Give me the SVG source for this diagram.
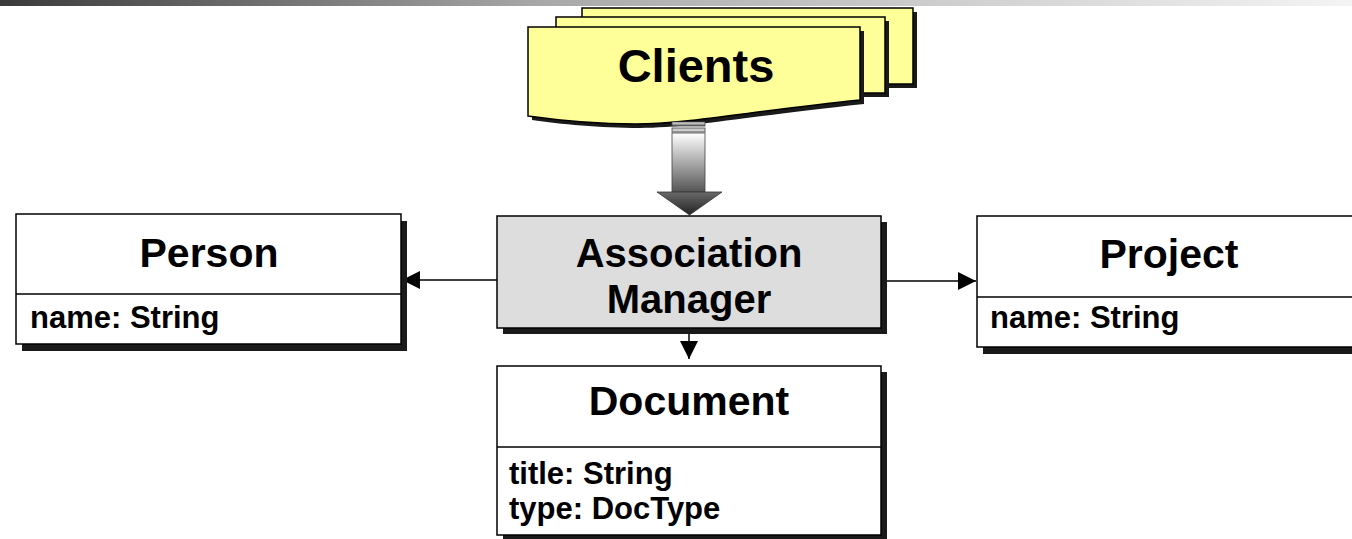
<svg xmlns="http://www.w3.org/2000/svg" width="1352" height="539" viewBox="0 0 1352 539">
<defs>
<linearGradient id="topbar" x1="0" y1="0" x2="1" y2="0">
<stop offset="0" stop-color="#3a3a3a"/>
<stop offset="0.4" stop-color="#a8a8a8"/>
<stop offset="1" stop-color="#f4f4f4"/>
</linearGradient>
<linearGradient id="shaft" x1="0" y1="0" x2="0" y2="1">
<stop offset="0" stop-color="#ffffff"/>
<stop offset="1" stop-color="#555555"/>
</linearGradient>
<linearGradient id="head" x1="0" y1="0" x2="0" y2="1">
<stop offset="0" stop-color="#6a6a6a"/>
<stop offset="1" stop-color="#222222"/>
</linearGradient>
<marker id="arr" viewBox="0 0 10 10" refX="10" refY="5" markerWidth="18" markerHeight="18" markerUnits="userSpaceOnUse" orient="auto">
<path d="M0,0 L10,5 L0,10 Z" fill="#000"/>
</marker>
</defs>
<style>
.shadow{fill:#1a1a1a}
.box{fill:#ffffff;stroke:#000;stroke-width:1.5}
.mgr{fill:#dddddd;stroke:#000;stroke-width:1.5}
.sheet{fill:#ffff99;stroke:#000;stroke-width:1.5}
.div{stroke:#000;stroke-width:1.5}
.title{font-family:"Liberation Sans",Arial,sans-serif;font-weight:bold;font-size:41px;text-anchor:middle;fill:#000}
.attr{font-family:"Liberation Sans",Arial,sans-serif;font-weight:bold;font-size:31px;fill:#000}
.conn{stroke:#000;stroke-width:1.5;fill:none}
</style>
<rect x="0" y="0" width="1352" height="6" fill="url(#topbar)"/>

<g id="clients">
<rect class="shadow" x="586" y="12" width="331" height="76"/>
<rect class="sheet" x="582" y="8" width="331" height="76"/>
<rect class="shadow" x="560" y="21" width="329" height="76"/>
<rect class="sheet" x="556" y="17" width="329" height="76"/>
<path class="shadow" d="M532,31 L864,31 L864,104 C750,116 690,128 640,128 C600,128 560,124 532,120 Z"/>
<path class="sheet" d="M528,27 L860,27 L860,100 C746,112 686,124 636,124 C596,124 556,120 528,116 Z"/>
<text class="title" x="696" y="82" style="font-size:47px">Clients</text>
</g>

<g id="client-arrow">
<rect x="672" y="122" width="33" height="4" fill="url(#shaft)" stroke="#444" stroke-width="0.8"/>
<rect x="672" y="128" width="33" height="4" fill="#cccccc" stroke="#444" stroke-width="0.8"/>
<rect x="672" y="133" width="33" height="59" fill="url(#shaft)" stroke="#444" stroke-width="0.8"/>
<polygon points="657,192 722,192 689.5,215" fill="url(#head)" stroke="#333" stroke-width="0.8"/>
</g>

<g id="connectors">
<line class="conn" x1="497" y1="280" x2="402" y2="280" marker-end="url(#arr)"/>
<line class="conn" x1="881" y1="281" x2="976" y2="281" marker-end="url(#arr)"/>
<line class="conn" x1="689" y1="328" x2="689" y2="359" marker-end="url(#arr)"/>
</g>

<g id="association-manager">
<rect class="shadow" x="503" y="222" width="384" height="112"/>
<rect class="mgr" x="497" y="216" width="384" height="112"/>
<text class="title" x="689" y="267" style="font-size:40px">Association</text>
<text class="title" x="689" y="313" style="font-size:40px">Manager</text>
</g>

<g id="person">
<rect class="shadow" x="22" y="221" width="385" height="130"/>
<rect class="box" x="16" y="214" width="385" height="130"/>
<line class="div" x1="16" y1="294" x2="401" y2="294"/>
<text class="title" x="209" y="267">Person</text>
<text class="attr" x="30" y="328">name: String</text>
</g>

<g id="project">
<rect class="shadow" x="983" y="223" width="385" height="131"/>
<rect class="box" x="977" y="216" width="385" height="131"/>
<line class="div" x1="977" y1="297" x2="1362" y2="297"/>
<text class="title" x="1169" y="268">Project</text>
<text class="attr" x="990" y="328">name: String</text>
</g>

<g id="document">
<rect class="shadow" x="503" y="372" width="384" height="170"/>
<rect class="box" x="497" y="366" width="384" height="169"/>
<line class="div" x1="497" y1="447" x2="881" y2="447"/>
<text class="title" x="689" y="415">Document</text>
<text class="attr" x="509" y="484">title: String</text>
<text class="attr" x="509" y="519">type: DocType</text>
</g>
</svg>
